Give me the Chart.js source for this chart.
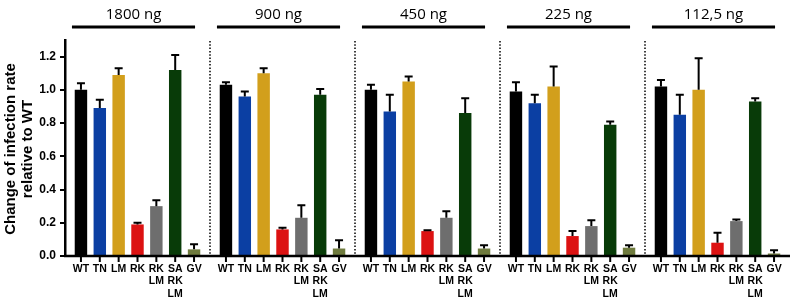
<!DOCTYPE html>
<html>
<head>
<meta charset="utf-8">
<script src="https://cdn.jsdelivr.net/npm/chart.js@4.4.1/dist/chart.umd.min.js"></script>
<style>
  html, body { margin: 0; padding: 0; background: #fff; }
</style>
</head>
<body>
<canvas id="chart" width="794" height="300"></canvas>
<script>
// dose groups (x categories) and strains (datasets)
const doses = ["1800 ng", "900 ng", "450 ng", "225 ng", "112,5 ng"];
const strains = ["WT", "TN", "LM", "RK", "RK LM", "SA RK LM", "GV"];
const strainColors = ["#000000", "#0b3fa3", "#d29f1c", "#dc1212", "#6e6e6e", "#083b08", "#6f7b3e"];

// mean change of infection rate, one list per strain across doses
const wt     = [1.00, 1.03, 1.00, 0.99, 1.02];
const tn     = [0.89, 0.96, 0.87, 0.92, 0.85];
const lm     = [1.09, 1.10, 1.05, 1.02, 1.00];
const rk     = [0.19, 0.16, 0.15, 0.12, 0.08];
const rkLm   = [0.30, 0.23, 0.23, 0.18, 0.21];
const saRkLm = [1.12, 0.97, 0.86, 0.79, 0.93];
const gv     = [0.04, 0.045, 0.045, 0.05, 0.015];

// upper error (SD / SEM)
const wtErr     = [0.04, 0.015, 0.03, 0.055, 0.04];
const tnErr     = [0.05, 0.03, 0.10, 0.05, 0.12];
const lmErr     = [0.04, 0.03, 0.03, 0.12, 0.19];
const rkErr     = [0.01, 0.01, 0.005, 0.03, 0.06];
const rkLmErr   = [0.035, 0.075, 0.04, 0.035, 0.01];
const saRkLmErr = [0.09, 0.035, 0.09, 0.02, 0.02];
const gvErr     = [0.03, 0.05, 0.02, 0.015, 0.02];

const yTicks = [0, 0.2, 0.4, 0.6, 0.8, 1.0, 1.2];

const values = [wt, tn, lm, rk, rkLm, saRkLm, gv];
const errors = [wtErr, tnErr, lmErr, rkErr, rkLmErr, saRkLmErr, gvErr];

const BOLD = "bold 10.5px Arial, 'Liberation Sans', sans-serif";

// --- extra drawing: error bars, strain labels, dose headers, separators ---
const decorations = {
  id: "decorations",
  afterDatasetsDraw(chart) {
    const { ctx, chartArea: a, scales: { x, y } } = chart;
    ctx.save();
    ctx.strokeStyle = "#000";
    ctx.fillStyle = "#000";

    // error bars (upper only)
    ctx.lineWidth = 2;
    values.forEach((vals, i) => {
      const meta = chart.getDatasetMeta(i);
      meta.data.forEach((bar, j) => {
        const top = y.getPixelForValue(vals[j] + errors[i][j]);
        ctx.beginPath();
        ctx.moveTo(bar.x, bar.y);
        ctx.lineTo(bar.x, top);
        ctx.moveTo(bar.x - 4, top);
        ctx.lineTo(bar.x + 4, top);
        ctx.stroke();
      });
    });

    // x axis line
    ctx.lineWidth = 2.5;
    ctx.beginPath();
    ctx.moveTo(a.left - 1, a.bottom);
    ctx.lineTo(a.right, a.bottom);
    ctx.stroke();

    // ticks and strain labels under each bar
    ctx.font = BOLD;
    ctx.textAlign = "center";
    ctx.textBaseline = "middle";
    ctx.lineWidth = 2;
    strains.forEach((name, i) => {
      const meta = chart.getDatasetMeta(i);
      const lines = name.split(" ");
      meta.data.forEach((bar) => {
        ctx.beginPath();
        ctx.moveTo(bar.x, a.bottom);
        ctx.lineTo(bar.x, a.bottom + 6);
        ctx.stroke();
        lines.forEach((t, k) => ctx.fillText(t, bar.x, a.bottom + 13 + k * 12.5));
      });
    });

    // dotted separators between dose groups
    ctx.lineWidth = 1.5;
    ctx.setLineDash([1.5, 1.8]);
    for (let j = 1; j < doses.length; j++) {
      const sx = (x.getPixelForValue(j - 1) + x.getPixelForValue(j)) / 2;
      ctx.beginPath();
      ctx.moveTo(sx, a.top + 1);
      ctx.lineTo(sx, a.bottom);
      ctx.stroke();
    }
    ctx.setLineDash([]);

    // dose headers with bars
    const first = chart.getDatasetMeta(0).data;
    const last = chart.getDatasetMeta(strains.length - 1).data;
    ctx.font = "15px 'Open Sans', sans-serif";
    ctx.lineWidth = 3;
    doses.forEach((d, j) => {
      const l = first[j].x - 9;
      const r = last[j].x + 1;
      ctx.beginPath();
      ctx.moveTo(l, 27);
      ctx.lineTo(r, 27);
      ctx.stroke();
      ctx.fillText(d, (l + r) / 2, 15);
    });

    // y axis title
    ctx.font = "bold 15px Arial, 'Liberation Sans', sans-serif";
    ctx.translate(0, 149);
    ctx.rotate(-Math.PI / 2);
    ctx.fillText("Change of infection rate", 0, 11);
    ctx.fillText("relative to WT", 0, 28);
    ctx.restore();
  },
};

new Chart(document.getElementById("chart"), {
  type: "bar",
  data: {
    labels: doses,
    datasets: strains.map((s, i) => ({
      label: s,
      data: values[i],
      backgroundColor: strainColors[i],
      borderWidth: 0,
      categoryPercentage: 0.91,
      barPercentage: 0.66,
    })),
  },
  options: {
    responsive: false,
    animation: false,
    layout: { padding: { top: 40, right: 4, bottom: 44, left: 0 } },
    plugins: { legend: { display: false }, tooltip: { enabled: false } },
    scales: {
      x: { display: false },
      y: {
        min: 0,
        max: 1.3,
        afterFit: (s) => { s.width = 65; },
        afterBuildTicks: (s) => { s.ticks = yTicks.map((v) => ({ value: v })); },
        ticks: {
          color: "#000",
          padding: 4,
          font: { family: "Arial, 'Liberation Sans', sans-serif", weight: "bold", size: 12 },
          callback: (v) => Number(v).toFixed(1),
        },
        grid: { drawOnChartArea: false, drawTicks: true, tickLength: 5, color: "#000", lineWidth: 2 },
        border: { display: true, color: "#000", width: 2.5 },
      },
    },
  },
  plugins: [decorations],
});
</script>
</body>
</html>
